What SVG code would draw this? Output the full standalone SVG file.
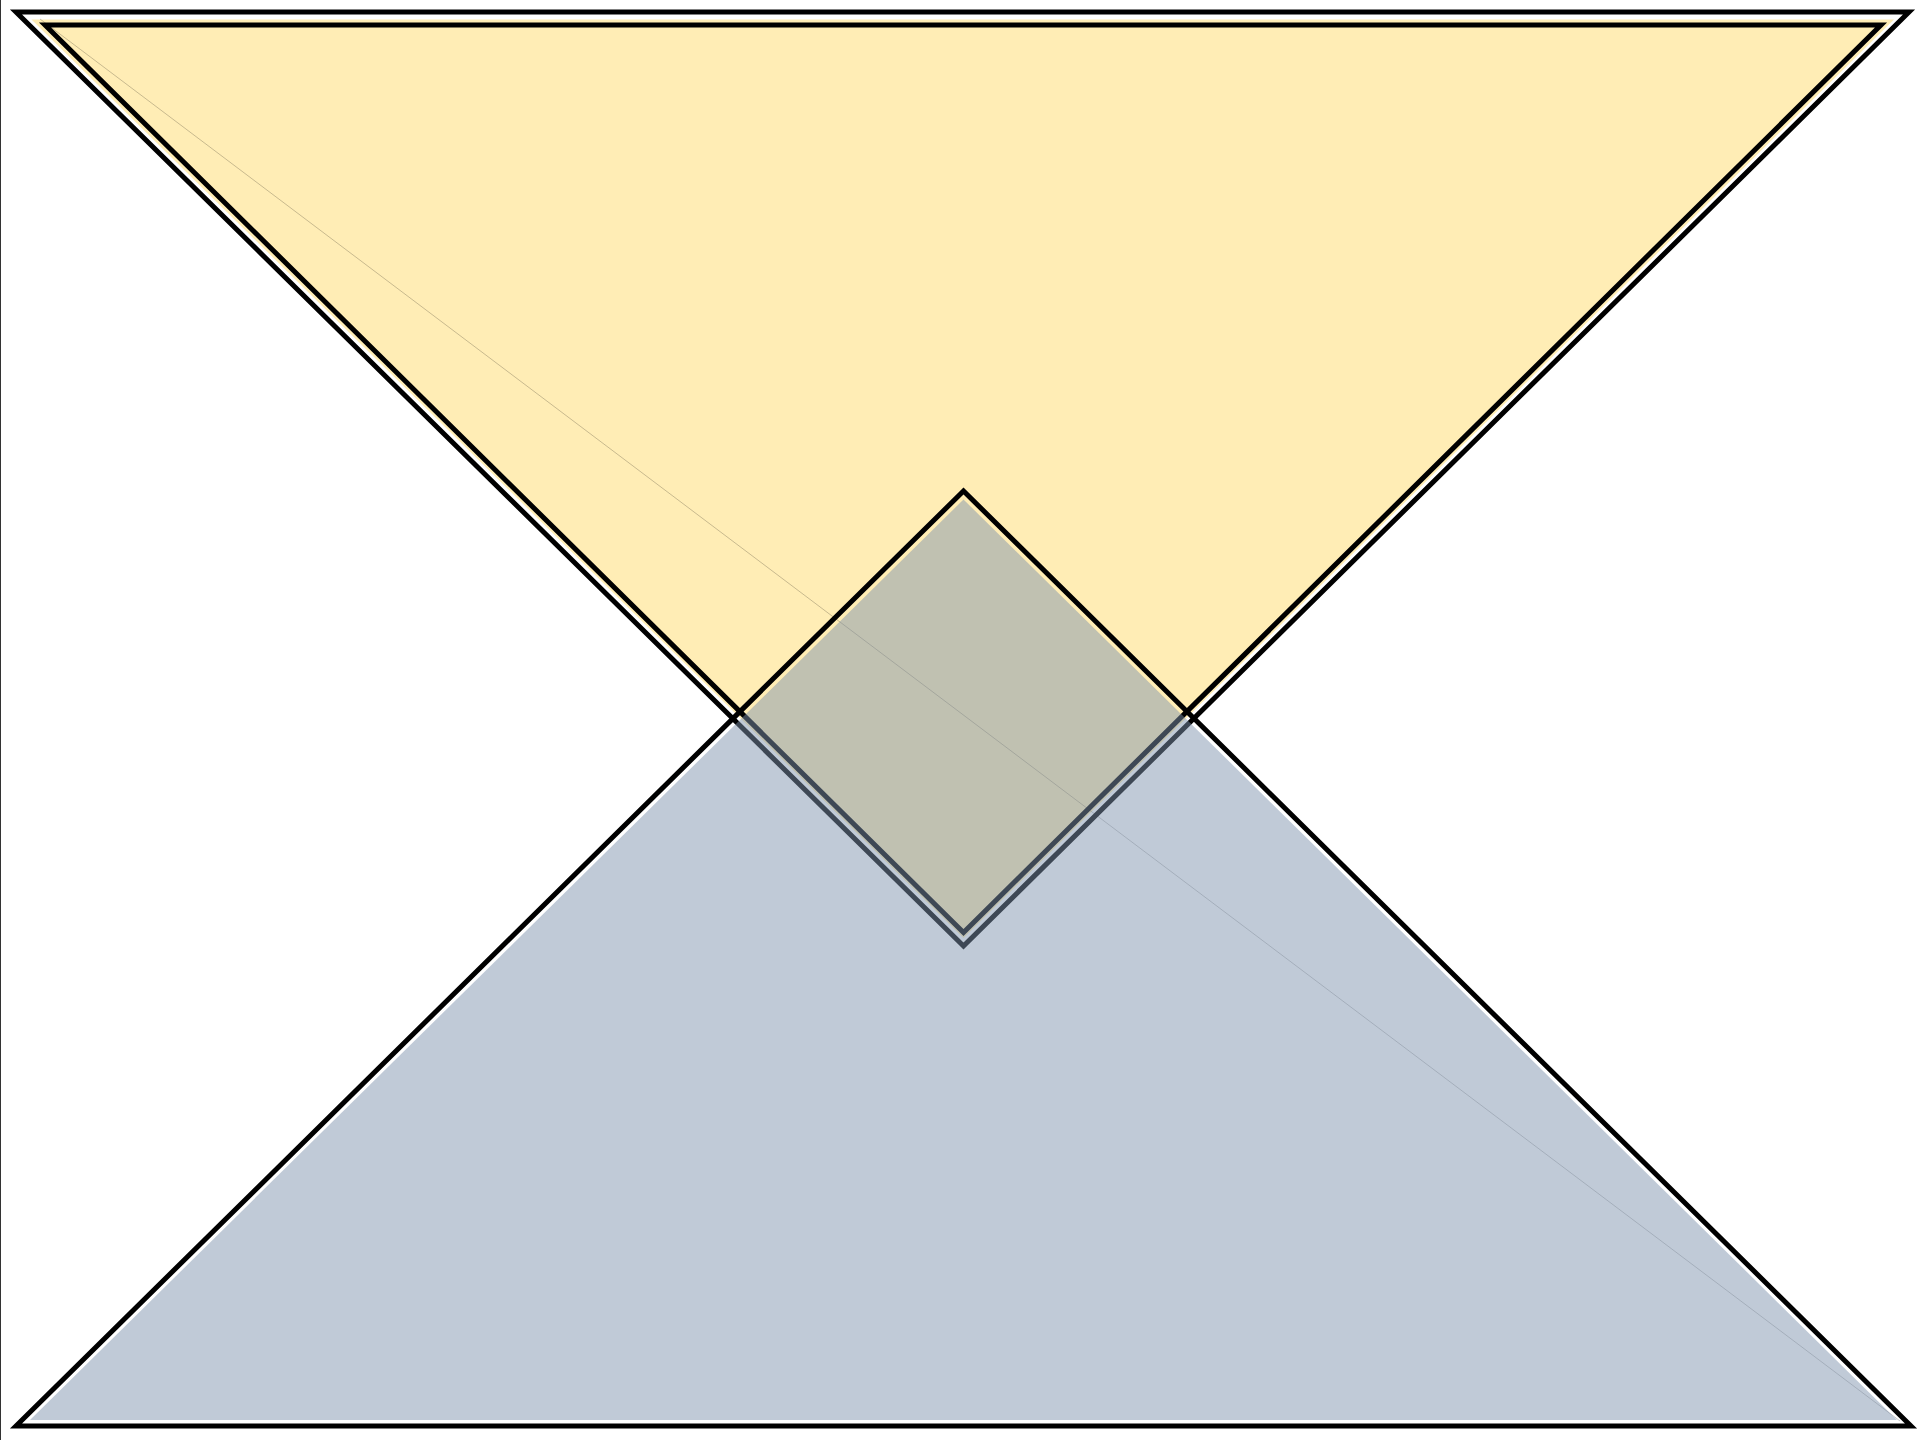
<svg xmlns="http://www.w3.org/2000/svg" width="1920" height="1440" viewBox="0 0 1920 1440">
  <style>
    .edge { fill: none; stroke: #000; stroke-width: 5; stroke-linejoin: miter; stroke-miterlimit: 10; }
    .upper-fill { fill: #FFEDB5; stroke: none; }
    .lower-fill { fill: rgb(127,147,174); fill-opacity: 0.49; stroke: none; }
    .guide { stroke: #000; stroke-opacity: 0.22; stroke-width: 1; fill: none; }
  </style>
  <rect x="0" y="0" width="1920" height="1440" fill="#fff"/>
  <line x1="0.5" y1="0" x2="0.5" y2="1440" stroke="#333" stroke-width="1"/>
  <g id="upper-triangle">
    <polygon class="edge" points="16,12 1909,12 963.5,946"/>
    <polygon class="upper-fill" points="31.5,19.5 1894,19.5 963.5,938"/>
    <polygon class="edge" points="45,25 1881,25 963.5,932.5"/>
  </g>
  <g id="connectors">
    <line class="guide" x1="40" y1="19" x2="1900" y2="1421"/>
  </g>
  <g id="lower-triangle">
    <polygon class="lower-fill" points="30,1420 1897,1420 963.5,499.5"/>
    <polygon class="edge" points="16,1426 1911,1426 963.5,491"/>
  </g>
</svg>
